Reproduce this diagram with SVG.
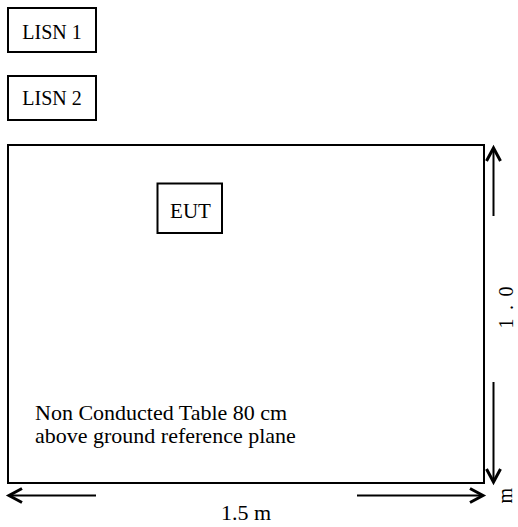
<svg xmlns="http://www.w3.org/2000/svg" width="518" height="527" viewBox="0 0 518 527">
<style>
.box{fill:#fff;stroke:#000;stroke-width:2}
.dim{stroke:#000;stroke-width:2;fill:none}
.t{font-family:"Liberation Serif","Times New Roman",serif;fill:#000}
</style>
<defs>
<marker id="ah" markerUnits="userSpaceOnUse" markerWidth="20" markerHeight="20" viewBox="-16 -10 20 20" refX="0" refY="0" orient="auto">
<path d="M-13,-7 L0,0 L-13,7" fill="none" stroke="#000" stroke-width="3" stroke-linejoin="miter"/>
</marker>
</defs>
<rect width="518" height="527" fill="#fff"/>
<g id="table">
<rect class="box" x="8" y="145" width="476" height="338"/>
<text class="t" x="35" y="420" font-size="22">Non Conducted Table 80 cm</text>
<text class="t" x="35" y="443" font-size="22">above ground reference plane</text>
</g>
<g id="lisn1">
<rect class="box" x="8" y="8" width="88" height="44"/>
<text class="t" x="52" y="38.5" font-size="20" text-anchor="middle">LISN 1</text>
</g>
<g id="lisn2">
<rect class="box" x="8" y="76" width="88" height="44"/>
<text class="t" x="52" y="105" font-size="20" text-anchor="middle">LISN 2</text>
</g>
<g id="eut">
<rect class="box" x="157.5" y="183.5" width="64.5" height="49.5"/>
<text class="t" x="190.5" y="218" font-size="21" text-anchor="middle">EUT</text>
</g>
<g id="connectors">
<line class="dim" x1="493.5" y1="216" x2="493.5" y2="148" marker-end="url(#ah)"/>
<line class="dim" x1="493.5" y1="382" x2="493.5" y2="482" marker-end="url(#ah)"/>
<line class="dim" x1="96" y1="495.5" x2="9" y2="495.5" marker-end="url(#ah)"/>
<line class="dim" x1="357" y1="495.5" x2="483" y2="495.5" marker-end="url(#ah)"/>
</g>
<g id="labels">
<text class="t" x="246" y="520" font-size="22" text-anchor="middle">1.5 m</text>
<text class="t" x="513" y="328.5" font-size="20" letter-spacing="1.75" transform="rotate(-90 513 328.5)" xml:space="preserve">1 . 0</text>
<text class="t" x="512" y="503.5" font-size="20" transform="rotate(-90 512 503.5)">m</text>
</g>
</svg>
